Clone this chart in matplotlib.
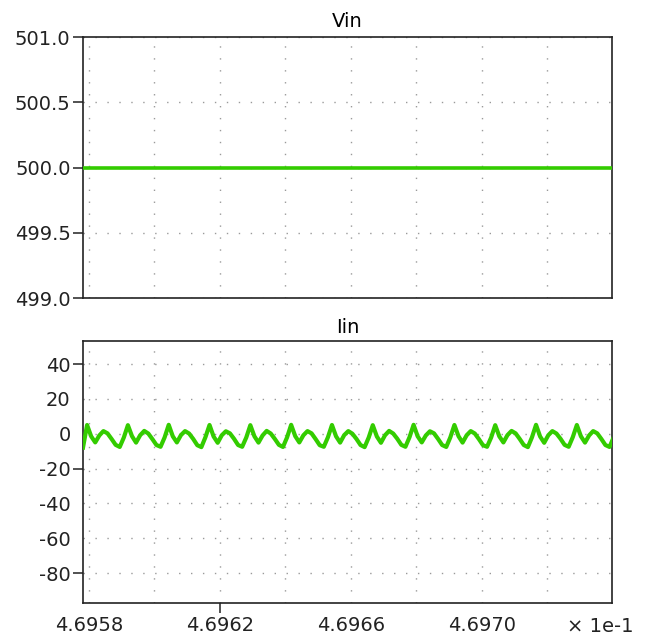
import matplotlib
matplotlib.use("Agg")
import matplotlib.pyplot as plt
import numpy as np

# time axis in units of 1e-1 s
t_start = 4.695782
t_end = 4.697397
t_step = 1.246e-5

x_ticks = [4.6958, 4.6962, 4.6966, 4.6970]
x_ticklabels = ["4.6958", "4.6962", "4.6966", "4.6970"]
x_grid = [4.6958, 4.6960, 4.6962, 4.6964, 4.6966, 4.6968, 4.6970, 4.6972]

vin_value = 500.0
vin_ticks = [499.0, 499.5, 500.0, 500.5, 501.0]
vin_ticks_marked = [499.0, 499.5, 500.0, 500.5, 501.0]

iin_ticks = [40, 20, 0, -20, -40, -60, -80]
iin_ticks_marked = [40, -20, -80]

# input current samples
iin = [
    -8.0,
    5.0, -1.5, -5.0, -1.0, 1.5, 0.2, -3.0, -6.4, -7.6, -2.2,
    4.9, -1.4, -5.1, -0.9, 1.6, 0.1, -3.1, -6.5, -7.5, -2.1,
    5.1, -1.5, -5.0, -0.8, 1.5, 0.1, -3.0, -6.6, -7.7, -2.0,
    5.0, -1.6, -5.2, -0.9, 1.4, 0.2, -2.9, -6.5, -7.5, -2.2,
    4.9, -1.5, -5.1, -1.0, 1.6, 0.1, -3.0, -6.4, -7.6, -2.1,
    5.1, -1.4, -5.0, -0.9, 1.5, 0.2, -3.1, -6.6, -7.5, -2.1,
    5.0, -1.5, -5.1, -0.8, 1.5, 0.0, -3.0, -6.5, -7.7, -2.2,
    4.9, -1.6, -5.2, -0.9, 1.6, 0.1, -2.9, -6.4, -7.5, -2.0,
    5.1, -1.5, -5.0, -1.0, 1.4, 0.2, -3.0, -6.5, -7.6, -2.1,
    5.0, -1.4, -5.1, -0.9, 1.5, 0.1, -3.1, -6.6, -7.5, -2.2,
    4.9, -1.5, -5.0, -0.8, 1.6, 0.2, -3.0, -6.5, -7.7, -2.1,
    5.1, -1.6, -5.2, -0.9, 1.5, 0.1, -2.9, -6.4, -7.5, -2.0,
    5.0, -1.5, -5.1, -1.0, 1.5, 0.2, -3.0, -6.5, -7.6, -2.2,
]

green = "#33cc00"
grid_kw = dict(color="#9a9a9a", linestyle=(0, (1, 7.6)), linewidth=1.0)

plt.rcParams["font.family"] = "DejaVu Sans"
plt.rcParams["font.size"] = 14

fig = plt.figure(figsize=(6.51, 6.42), dpi=100)
ax1 = fig.add_axes([0.1275, 0.5358, 0.8126, 0.4065])
ax2 = fig.add_axes([0.1275, 0.0607, 0.8126, 0.4081])

t = t_start + t_step * np.arange(len(iin))

# Vin
ax1.plot([t_start, t_end], [vin_value, vin_value], color=green, linewidth=2.6, zorder=3)
ax1.set_ylim(499.0, 501.0)
ax1.set_yticks(vin_ticks)
ax1.set_yticklabels(["%.1f" % v for v in vin_ticks])
ax1.set_title("Vin", fontsize=14, pad=7)

# Iin
ax2.plot(t, iin, color=green, linewidth=3.0, zorder=3, solid_joinstyle="round")
ax2.set_ylim(-97.2, 53.2)
ax2.set_yticks(iin_ticks)
ax2.set_yticklabels([str(v) for v in iin_ticks])
ax2.set_title("Iin", fontsize=14, pad=6)

for ax in (ax1, ax2):
    ax.set_xlim(t_start, t_end)
    ax.set_xticks(x_ticks)
    ax.set_xticks(x_grid, minor=True)
    ax.grid(True, which="both", axis="x", **grid_kw)
    ax.grid(True, which="major", axis="y", **grid_kw)
    ax.tick_params(axis="both", which="major", direction="out", length=7,
                   width=1.1, pad=2, labelsize=14, colors="#222222")
    ax.tick_params(axis="x", which="minor", length=0)
    for s in ax.spines.values():
        s.set_linewidth(1.2)
        s.set_color("#222222")

ax1.set_xticklabels([])
for tk in ax1.xaxis.get_major_ticks():
    tk.tick1line.set_visible(False)
for tk, v in zip(ax1.yaxis.get_major_ticks(), vin_ticks):
    tk.tick1line.set_visible(v in vin_ticks_marked)

ax2.set_xticklabels(x_ticklabels)
for tk, v in zip(ax2.xaxis.get_major_ticks(), x_ticks):
    tk.tick1line.set_visible(v == 4.6962)
for tk, v in zip(ax2.yaxis.get_major_ticks(), iin_ticks):
    tk.tick1line.set_visible(v in iin_ticks_marked)

fig.text(600 / 651, 1 - 626 / 642, "\u00d7 1e-1", ha="center", va="center",
         fontsize=14, color="#222222")

fig.savefig("out.png", dpi=100)
